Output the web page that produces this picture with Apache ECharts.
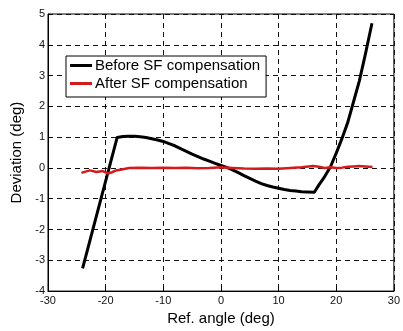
<!DOCTYPE html>
<html>
<head>
<meta charset="utf-8">
<script src="https://cdn.jsdelivr.net/npm/echarts@6/dist/echarts.min.js"></script>
<style>
  html, body { margin: 0; padding: 0; background: #fff; }
  #chart { width: 403px; height: 331px; }
</style>
</head>
<body>
<div id="chart"></div>
<script>
// Deviation vs. reference angle, before and after scale-factor compensation
const seriesNames = ['Before SF compensation', 'After SF compensation'];

const beforeAngle = [-24.0, -18.0, -17.0, -16.0, -15.0, -14.0, -13.0, -12.0, -11.0, -10.0, -9.0, -8.0, -7.0, -6.0, -5.0, -4.0, -3.0, -2.0, -1.0, 0.0, 1.0, 2.0, 3.0, 4.0, 5.0, 6.0, 7.0, 8.0, 9.0, 10.0, 11.0, 12.0, 13.0, 14.0, 15.0, 16.2, 17.0, 18.0, 19.0, 20.0, 21.0, 22.0, 23.0, 24.0, 25.0, 26.2];
const beforeDev   = [-3.26, 0.99, 1.02, 1.03, 1.03, 1.01, 0.99, 0.95, 0.91, 0.86, 0.79, 0.72, 0.63, 0.54, 0.45, 0.37, 0.29, 0.22, 0.15, 0.08, 0.02, -0.06, -0.15, -0.25, -0.34, -0.43, -0.51, -0.57, -0.62, -0.66, -0.70, -0.73, -0.75, -0.77, -0.78, -0.79, -0.55, -0.28, 0.04, 0.48, 0.96, 1.48, 2.15, 2.82, 3.65, 4.70];

const afterAngle = [-24.2, -23.5, -22.7, -21.6, -20.5, -19.6, -18.9, -18.2, -17.0, -15.9, -14.0, -12.0, -10.0, -8.0, -6.0, -4.0, -2.0, 0.0, 2.0, 4.0, 6.0, 8.0, 10.0, 12.0, 14.0, 16.0, 17.0, 18.0, 19.0, 20.0, 21.0, 22.0, 23.0, 24.0, 25.0, 26.3];
const afterDev   = [-0.16, -0.12, -0.08, -0.13, -0.10, -0.18, -0.14, -0.08, -0.04, 0.00, 0.01, 0.00, 0.01, 0.00, 0.01, -0.01, 0.00, 0.02, 0.00, -0.02, -0.03, -0.02, -0.03, 0.00, 0.02, 0.06, 0.04, 0.00, 0.02, 0.00, 0.01, 0.04, 0.05, 0.06, 0.05, 0.03];

const xTicks = { min: -30, max: 30, step: 10 };
const yTicks = { min: -4, max: 5, step: 1 };

const pairs = (xs, ys) => xs.map((x, i) => [x, ys[i]]);

const font = '"Liberation Sans", Arial, sans-serif';
const gridDash = { color: '#111', width: 1, type: [5, 4] };

const chart = echarts.init(document.getElementById('chart'), null, { renderer: 'canvas' });
chart.setOption({
  animation: false,
  backgroundColor: '#fff',
  textStyle: { fontFamily: font },
  grid: {
    left: 48, top: 14, right: 3, bottom: 33,
    show: true, borderColor: '#000', borderWidth: 1
  },
  legend: {
    orient: 'vertical',
    left: 66, top: 56,
    data: seriesNames,
    icon: 'rect',
    itemWidth: 22, itemHeight: 3,
    itemGap: 3,
    padding: [2, 6, 6, 4],
    borderColor: '#000', borderWidth: 1,
    backgroundColor: '#fff',
    textStyle: { fontFamily: font, fontSize: 15, color: '#000', padding: [0, 0, 0, -2] }
  },
  xAxis: {
    type: 'value',
    min: xTicks.min, max: xTicks.max, interval: xTicks.step,
    name: 'Ref. angle (deg)',
    nameLocation: 'middle', nameGap: 17,
    nameTextStyle: { fontFamily: font, fontSize: 15, color: '#000' },
    axisLine: { show: true, onZero: false, lineStyle: { color: '#000', width: 1 } },
    axisTick: { show: true, inside: true, length: 4, lineStyle: { color: '#000' } },
    axisLabel: { fontFamily: font, fontSize: 11, color: '#111', margin: 4 },
    splitLine: { show: true, lineStyle: gridDash }
  },
  yAxis: {
    type: 'value',
    min: yTicks.min, max: yTicks.max, interval: yTicks.step,
    name: 'Deviation (deg)',
    nameLocation: 'middle', nameGap: 12, nameRotate: 90,
    nameTextStyle: { fontFamily: font, fontSize: 15, color: '#000' },
    axisLine: { show: true, onZero: false, lineStyle: { color: '#000', width: 1 } },
    axisTick: { show: true, inside: true, length: 4, lineStyle: { color: '#000' } },
    axisLabel: { fontFamily: font, fontSize: 11, color: '#111', margin: 3 },
    splitLine: { show: true, lineStyle: gridDash }
  },
  series: [
    {
      name: seriesNames[0],
      type: 'line',
      data: pairs(beforeAngle, beforeDev),
      smooth: false,
      showSymbol: false,
      color: '#000',
      lineStyle: { color: '#000', width: 3, join: 'round' },
      z: 3
    },
    {
      name: seriesNames[1],
      type: 'line',
      data: pairs(afterAngle, afterDev),
      smooth: false,
      showSymbol: false,
      color: '#d41a1a',
      lineStyle: { color: '#d41a1a', width: 2.5, join: 'round' },
      z: 4
    }
  ]
});
</script>
</body>
</html>
